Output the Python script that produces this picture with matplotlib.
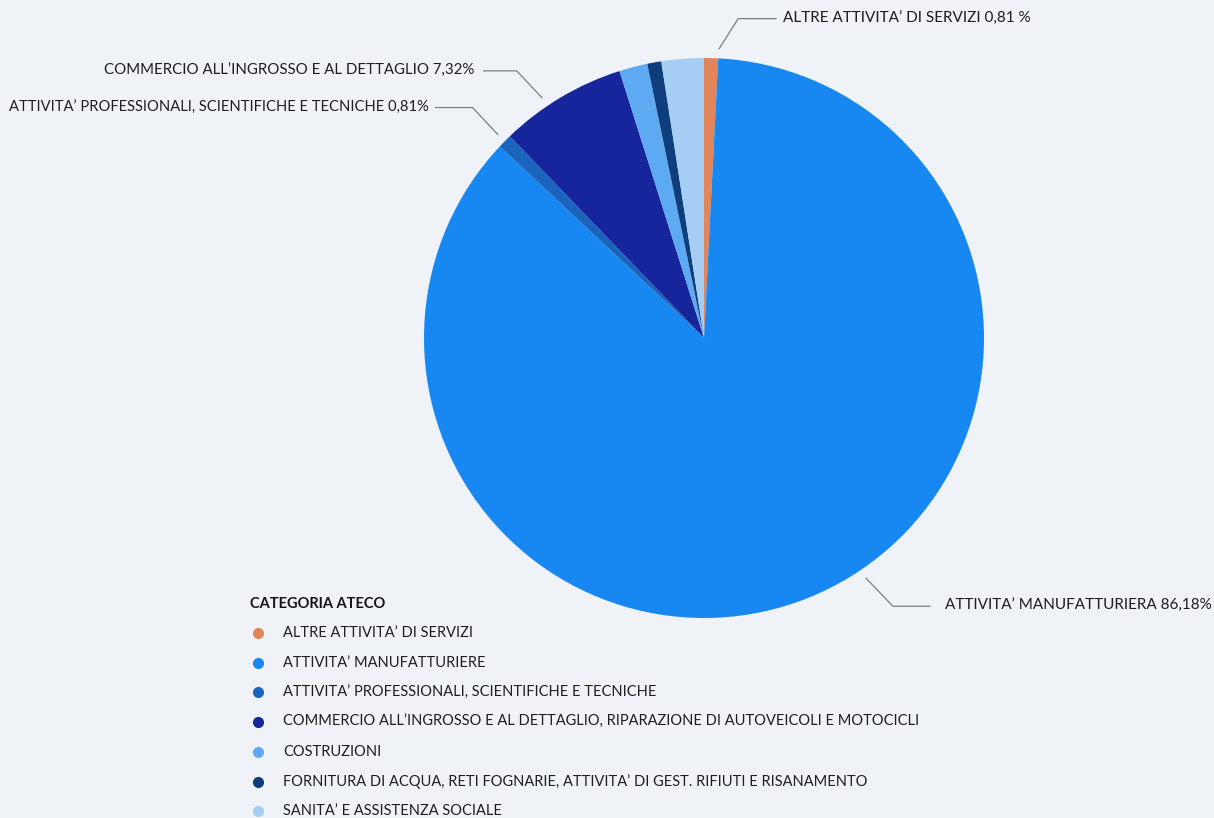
import matplotlib
matplotlib.use("Agg")
import matplotlib.pyplot as plt
import numpy as np
from matplotlib.lines import Line2D

# dati (percentuali per categoria ATECO)
categorie = [
    "ALTRE ATTIVITA’ DI SERVIZI",
    "ATTIVITA’ MANUFATTURIERE",
    "ATTIVITA’ PROFESSIONALI, SCIENTIFICHE E TECNICHE",
    "COMMERCIO ALL’INGROSSO E AL DETTAGLIO, RIPARAZIONE DI AUTOVEICOLI E MOTOCICLI",
    "COSTRUZIONI",
    "FORNITURA DI ACQUA, RETI FOGNARIE, ATTIVITA’ DI GEST. RIFIUTI E RISANAMENTO",
    "SANITA’ E ASSISTENZA SOCIALE",
]
valori = [0.81, 86.18, 0.81, 7.32, 1.63, 0.81, 2.44]
colori = ["#e2855a", "#1787f2", "#1a64bd", "#16259c", "#5eaaf2", "#0e3f7c", "#a6cdf4"]

# etichette esterne: indice fetta -> testo
etichette = {
    0: "ALTRE ATTIVITA’ DI SERVIZI 0,81 %",
    1: "ATTIVITA’ MANUFATTURIERA 86,18%",
    2: "ATTIVITA’ PROFESSIONALI, SCIENTIFICHE E TECNICHE 0,81%",
    3: "COMMERCIO ALL’INGROSSO E AL DETTAGLIO 7,32%",
}

plt.rcParams['font.family'] = ['Lato', 'DejaVu Sans']
sfondo = "#eff3f7"
col_testo = "#1e1e1e"

W, H = 1214, 818
fig = plt.figure(figsize=(W / 100, H / 100), dpi=100, facecolor=sfondo)
cx, cy, r = 704, 338, 280
ax = fig.add_axes([(cx - r) / W, (H - cy - r) / H, 2 * r / W, 2 * r / H])
ax.set_facecolor(sfondo)

wedges, _ = ax.pie(valori, colors=colori, startangle=90, counterclock=False,
                   radius=1, wedgeprops={'linewidth': 0})
ax.set_xlim(-1, 1)
ax.set_ylim(-1, 1)
ax.set_aspect('equal')
ax.axis('off')

# leader lines: (angolo di partenza, dx gomito, dy gomito, lunghezza orizzontale, spazio testo, dimensione)
linea = {
    0: (87.0, 0.068, 0.107, 0.135, 0.025, 11),
    1: (-56, 0.096, -0.10, 0.132, 0.054, 11),
    2: (None, -0.09, 0.096, -0.132, 0.025, 10.6),
    3: (124, -0.09, 0.096, -0.118, 0.032, 10.8),
}
for i, testo in etichette.items():
    ang, dx, dy, lh, gap, fs = linea[i]
    w = wedges[i]
    if ang is None:
        ang = (w.theta1 + w.theta2) / 2
    a = np.deg2rad(ang)
    x0, y0 = 1.035 * np.cos(a), 1.035 * np.sin(a)
    x1, y1 = x0 + dx, y0 + dy
    x2 = x1 + lh
    ax.plot([x0, x1, x2], [y0, y1, y1], color="#7a7f85", lw=0.9, clip_on=False)
    ha = 'left' if lh > 0 else 'right'
    ax.text(x2 + np.sign(lh) * gap, y1, testo, ha=ha, va='center',
            fontsize=fs, color=col_testo)

# legenda disegnata a mano
fig.text(250 / W, 1 - 604 / H, "CATEGORIA ATECO", fontsize=10.5, fontweight='bold',
         color="#151515", va='center', ha='left')
y = 633
for cat, col in zip(categorie, colori):
    fig.add_artist(Line2D([258 / W], [1 - y / H], marker='o', markersize=7,
                          color=col, linestyle='none', transform=fig.transFigure))
    fig.text(283 / W, 1 - y / H, cat, fontsize=10.5, color=col_testo, va='center', ha='left')
    y += 29.7

fig.savefig("out.png", dpi=100, facecolor=sfondo)
